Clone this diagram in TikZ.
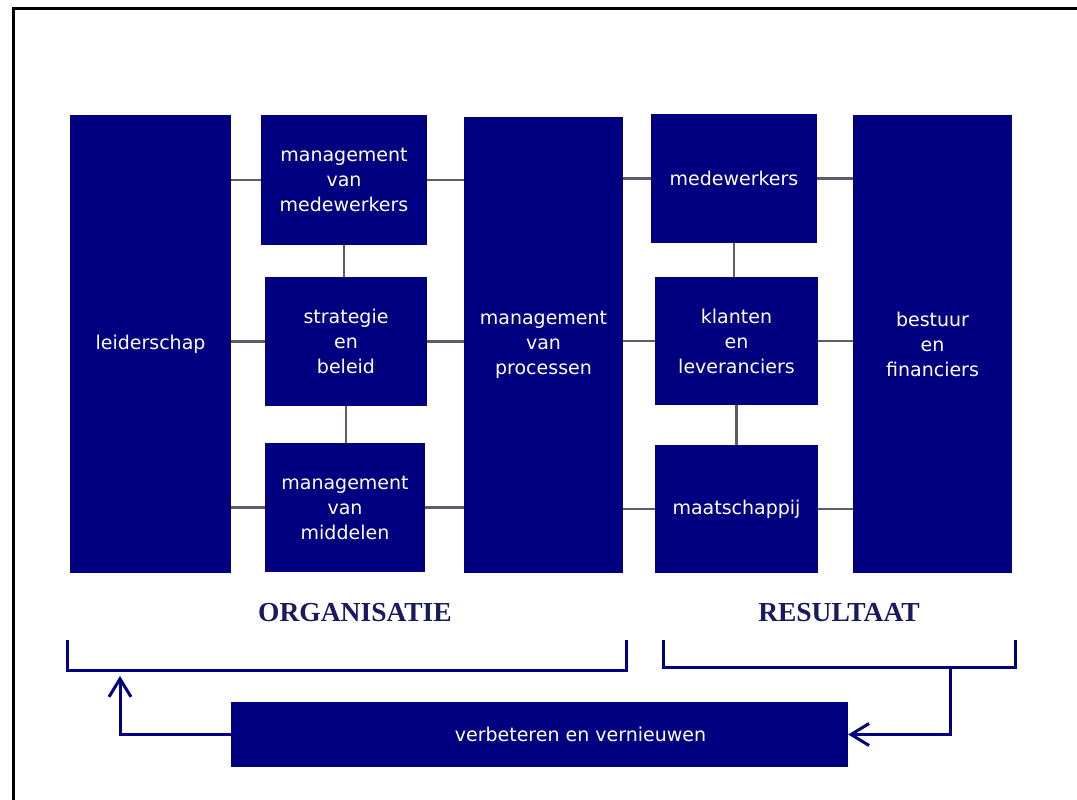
\documentclass[tikz,border=0pt]{standalone}
\usepackage{fontspec}
\setmainfont{DejaVu Sans}
\newfontfamily\headfont{Liberation Serif}
\usetikzlibrary{arrows.meta}
\definecolor{navy}{RGB}{0,0,128}
\definecolor{headblue}{RGB}{26,26,96}
\definecolor{linkgray}{RGB}{92,92,108}
\begin{document}
\begin{tikzpicture}[x=1pt, y=-1pt,
  box/.style={fill=navy, text=white, inner sep=0pt, align=center, font=\fontsize{19}{25}\selectfont},
  link/.style={draw=linkgray, line width=2.5pt},
  head/.style={text=headblue, font=\headfont\bfseries\fontsize{27.5}{30}\selectfont},
  bracket/.style={draw=navy, line width=3pt},
  feedback/.style={draw=navy, line width=3pt, -{Straight Barb[length=18pt, width=22pt, line width=3pt]}}]
\fill[white] (0,0) rectangle (1077,800);
\useasboundingbox (0,0) rectangle (1077,800);
\draw[line width=3pt] (13,800) -- (13,9) -- (1077,9);

\node (lead) at (150.5,344) [box, minimum width=161pt, minimum height=458pt] {leiderschap};
\node (mvm) at (344,180) [box, minimum width=166pt, minimum height=130pt] {management\\van\\medewerkers};
\node (strat) at (346,341.5) [box, minimum width=162pt, minimum height=129pt] {strategie\\en\\beleid};
\node (midd) at (345,507.5) [box, minimum width=160pt, minimum height=129pt] {management\\van\\middelen};
\node (proc) at (543.5,345) [box, minimum width=159pt, minimum height=456pt] {management\\van\\processen};
\node (medw) at (734,178.5) [box, minimum width=166pt, minimum height=129pt] {medewerkers};
\node (klant) at (736.5,341) [box, minimum width=163pt, minimum height=128pt] {klanten\\en\\leveranciers};
\node (maat) at (736.5,509) [box, minimum width=163pt, minimum height=128pt] {maatschappij};
\node (best) at (932.5,344) [box, minimum width=159pt, minimum height=458pt] {bestuur\\en\\financiers};
\node (verb) at (539.5,734.5) [box, minimum width=617pt, minimum height=65pt] {\hspace*{82pt}verbeteren en vernieuwen};

\node (org) at (355,613) [head] {ORGANISATIE};
\node (res) at (839,613) [head] {RESULTAAT};

% links between the blocks
\draw[link] (mvm.west) -- (mvm.west -| lead.east);
\draw[link] (mvm.east) -- (mvm.east -| proc.west);
\draw[link] (strat.west) -- (strat.west -| lead.east);
\draw[link] (strat.east) -- (strat.east -| proc.west);
\draw[link] (midd.west) -- (midd.west -| lead.east);
\draw[link] (midd.east) -- (midd.east -| proc.west);
\draw[link] (medw.west) -- (medw.west -| proc.east);
\draw[link] (medw.east) -- (medw.east -| best.west);
\draw[link] (klant.west) -- (klant.west -| proc.east);
\draw[link] (klant.east) -- (klant.east -| best.west);
\draw[link] (maat.west) -- (maat.west -| proc.east);
\draw[link] (maat.east) -- (maat.east -| best.west);
\draw[link] (mvm.south) -- (mvm.south |- strat.north);
\draw[link] (strat.south) -- (strat.south |- midd.north);
\draw[link] (medw.south) -- (medw.south |- klant.north);
\draw[link] (klant.south) -- (klant.south |- maat.north);

% brackets and the loop back
\draw[bracket] (67,640) |- (626,670) -- (626,640);
\draw[bracket] (663,640) |- (1015,667) -- (1015,640);
\coordinate (orgtip) at (120,676);
\coordinate (resout) at (950,667);
\draw[feedback] (verb.west) -| (orgtip);
\draw[feedback] (resout) |- (verb.east);
\end{tikzpicture}
\end{document}
